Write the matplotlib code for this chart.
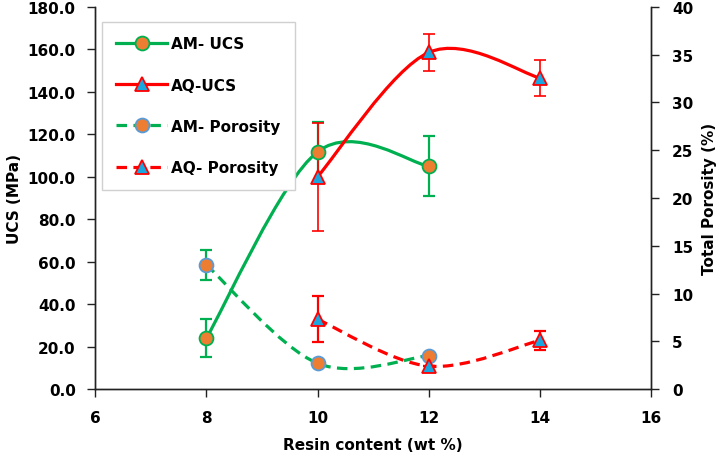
import matplotlib
matplotlib.use("Agg")
import matplotlib.pyplot as plt
from matplotlib.path import Path
from matplotlib.patches import PathPatch
from matplotlib.lines import Line2D

plt.rcParams['font.family'] = ['DejaVu Sans']
plt.rcParams['font.weight'] = 'bold'

# data
am_x = [8, 10, 12]
am_ucs = [24.0, 111.7, 105.0]
am_ucs_err = [9.0, 14.0, 14.0]
aq_x = [10, 12, 14]
aq_ucs = [100.0, 158.5, 146.5]
aq_ucs_err = [25.5, 8.5, 8.5]

am_por = [13.0, 2.7, 3.5]
am_por_err = [1.6, 0.0, 0.0]
aq_por = [7.3, 2.4, 5.1]
aq_por_err = [2.4, 0.0, 1.0]

green = '#00B050'
red = '#FF0000'
orange = '#ED7D31'
cyan = '#1AA7E0'
ltblue = '#5B9BD5'


def smooth_path(xs, ys):
    # excel style smoothed line (catmull-rom as bezier segments)
    pts = list(zip(xs, ys))
    verts = [pts[0]]
    codes = [Path.MOVETO]
    n = len(pts)
    for i in range(n - 1):
        p0 = pts[i - 1] if i > 0 else pts[i]
        p1 = pts[i]
        p2 = pts[i + 1]
        p3 = pts[i + 2] if i + 2 < n else pts[i + 1]
        c1 = (p1[0] + (p2[0] - p0[0]) / 6, p1[1] + (p2[1] - p0[1]) / 6)
        c2 = (p2[0] - (p3[0] - p1[0]) / 6, p2[1] - (p3[1] - p1[1]) / 6)
        verts += [c1, c2, p2]
        codes += [Path.CURVE4] * 3
    return Path(verts, codes)


fig = plt.figure(figsize=(7.21, 4.6), dpi=100)
ax = fig.add_axes([0.132, 0.152, 0.771, 0.831])
ax2 = ax.twinx()

dash = (0, (3.3, 2.0))
lw = 2.3
fs = 11

# UCS on left axis
ax.add_patch(PathPatch(smooth_path(am_x, am_ucs), fill=False, ec=green, lw=lw, zorder=2))
ax.add_patch(PathPatch(smooth_path(aq_x, aq_ucs), fill=False, ec=red, lw=lw, zorder=2))
ax.errorbar(am_x, am_ucs, yerr=am_ucs_err, fmt='none', ecolor=green, elinewidth=1.6,
            capsize=4.5, capthick=1.6, zorder=3)
ax.errorbar(aq_x, aq_ucs, yerr=aq_ucs_err, fmt='none', ecolor=red, elinewidth=1.2,
            capsize=4.5, capthick=1.2, zorder=3)
ax.plot(am_x, am_ucs, ls='none', marker='o', ms=10, mfc=orange, mec=green, mew=1.3, zorder=4)
ax.plot(aq_x, aq_ucs, ls='none', marker='^', ms=10.5, mfc=cyan, mec=red, mew=1.3, zorder=4)

# porosity on right axis
ax2.add_patch(PathPatch(smooth_path(am_x, am_por), fill=False, ec=green, lw=lw, ls=dash, zorder=2))
ax2.add_patch(PathPatch(smooth_path(aq_x, aq_por), fill=False, ec=red, lw=lw, ls=dash, zorder=2))
ax2.errorbar(am_x, am_por, yerr=am_por_err, fmt='none', ecolor=green, elinewidth=1.6,
             capsize=4.5, capthick=1.6, zorder=3)
ax2.errorbar(aq_x, aq_por, yerr=aq_por_err, fmt='none', ecolor=red, elinewidth=1.6,
             capsize=4.5, capthick=1.6, zorder=3)
ax2.plot(am_x, am_por, ls='none', marker='o', ms=10, mfc=orange, mec=ltblue, mew=1.3, zorder=4)
ax2.plot(aq_x, aq_por, ls='none', marker='^', ms=10.5, mfc=cyan, mec=red, mew=1.3, zorder=4)

ax.set_xlim(6, 16)
ax.set_ylim(0, 180)
ax2.set_ylim(0, 40)
ax.set_xticks(range(6, 17, 2))
ax.set_yticks(range(0, 181, 20))
ax2.set_yticks(range(0, 41, 5))
ax.set_yticklabels(['%.1f' % v for v in range(0, 181, 20)])

for a in (ax, ax2):
    a.spines['top'].set_visible(False)
    for s in a.spines.values():
        s.set_linewidth(1.0)
        s.set_color('#222222')
    a.tick_params(direction='out', length=6, width=1.0, labelsize=fs, color='#222222')
ax.tick_params(axis='x', pad=9)
ax.tick_params(axis='y', pad=8)
ax2.tick_params(axis='y', pad=9)

ax.set_xlabel('Resin content (wt %)', fontsize=fs, fontweight='bold', labelpad=9)
ax.set_ylabel('UCS (MPa)', fontsize=fs, fontweight='bold', labelpad=4)
ax2.set_ylabel('Total Porosity (%)', fontsize=fs, fontweight='bold', labelpad=6)

handles = [
    Line2D([], [], color=green, lw=lw, marker='o', ms=10, mfc=orange, mec=green, mew=1.3),
    Line2D([], [], color=red, lw=lw, marker='^', ms=10.5, mfc=cyan, mec=red, mew=1.3),
    Line2D([], [], color=green, lw=lw, ls=dash, marker='o', ms=10, mfc=orange, mec=ltblue, mew=1.3),
    Line2D([], [], color=red, lw=lw, ls=dash, marker='^', ms=10.5, mfc=cyan, mec=red, mew=1.3),
]
labels = ['AM- UCS', 'AQ-UCS', 'AM- Porosity', 'AQ- Porosity']
leg = ax2.legend(handles, labels, loc='upper left', bbox_to_anchor=(0.012, 0.961),
                 borderaxespad=0, fancybox=False, framealpha=1, edgecolor='#d0d0d0',
                 fontsize=fs, handlelength=3.3, labelspacing=1.72, handletextpad=0.3,
                 borderpad=0.95)
leg.get_frame().set_linewidth(1.0)

fig.savefig('out.png', dpi=100)
